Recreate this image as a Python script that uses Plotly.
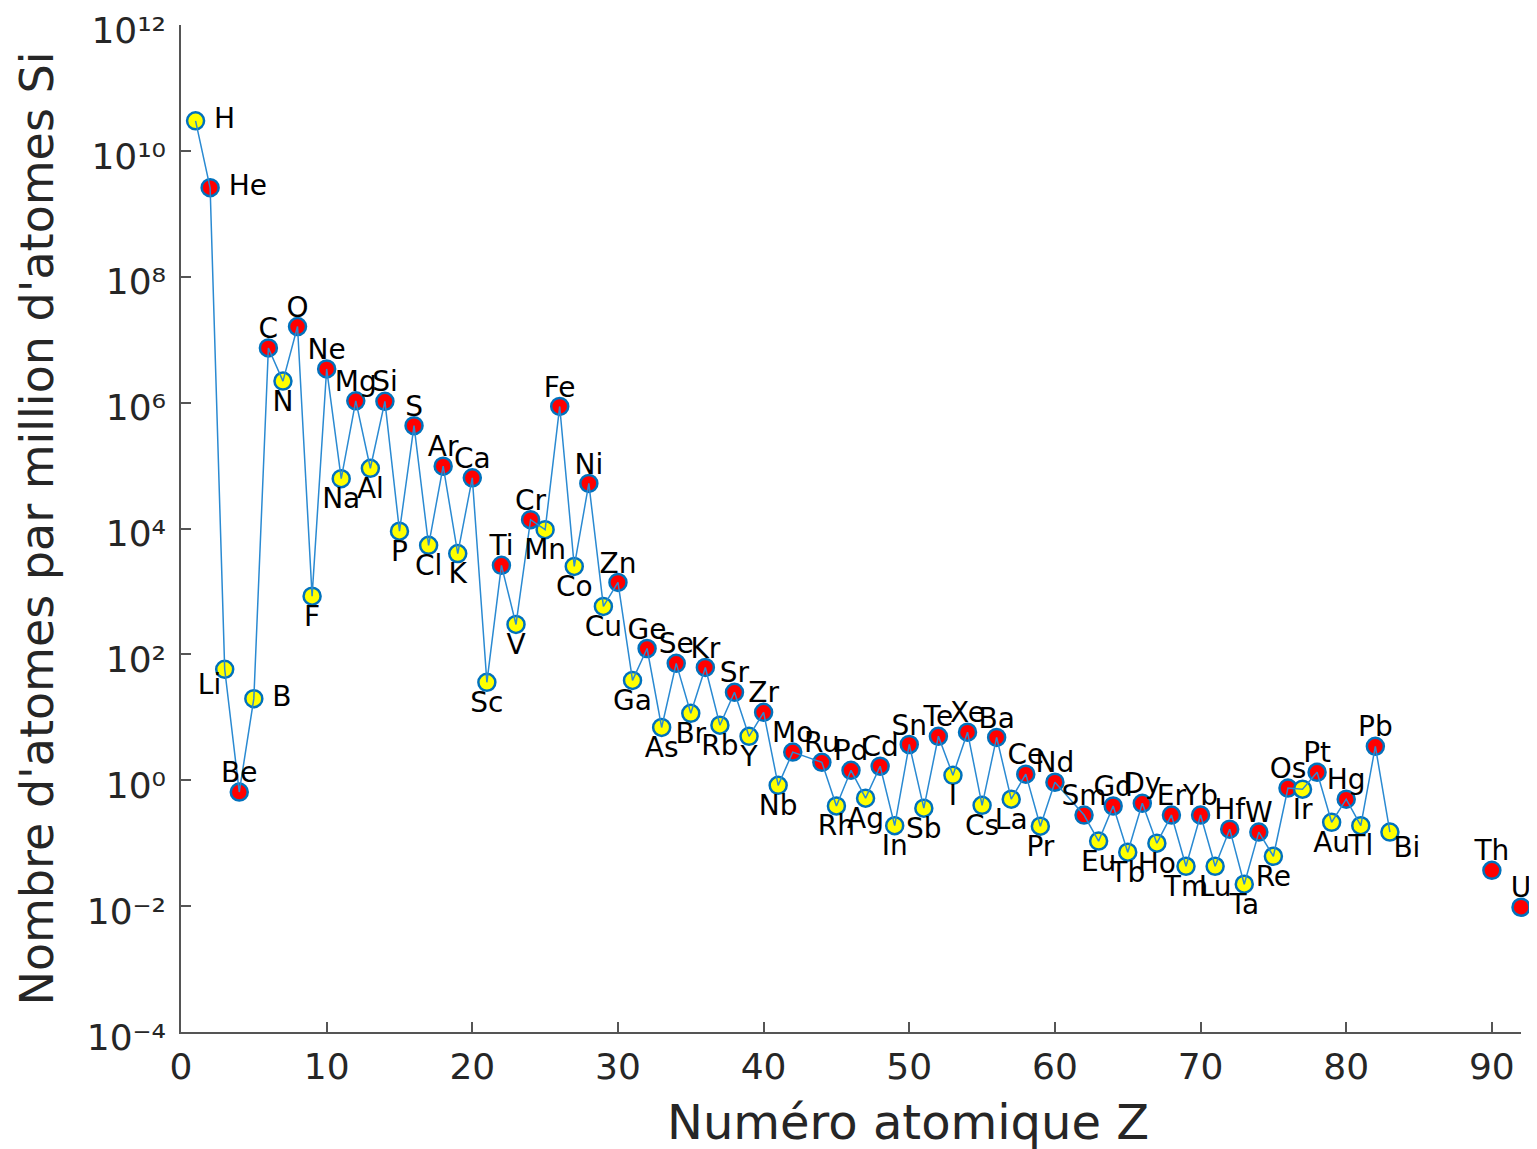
import plotly.graph_objects as go

# ---- data ----
symbols = ["H", "He", "Li", "Be", "B", "C", "N", "O", "F", "Ne",
           "Na", "Mg", "Al", "Si", "P", "S", "Cl", "Ar", "K", "Ca",
           "Sc", "Ti", "V", "Cr", "Mn", "Fe", "Co", "Ni", "Cu", "Zn",
           "Ga", "Ge", "As", "Se", "Br", "Kr", "Rb", "Sr", "Y", "Zr",
           "Nb", "Mo", "Ru", "Rh", "Pd", "Ag", "Cd", "In", "Sn", "Sb",
           "Te", "I", "Xe", "Cs", "Ba", "La", "Ce", "Pr", "Nd", "Sm",
           "Eu", "Gd", "Tb", "Dy", "Ho", "Er", "Tm", "Yb", "Lu", "Hf",
           "Ta", "W", "Re", "Os", "Ir", "Pt", "Au", "Hg", "Tl", "Pb",
           "Bi", "Th", "U"]
Z = [1, 2, 3, 4, 5, 6, 7, 8, 9, 10,
     11, 12, 13, 14, 15, 16, 17, 18, 19, 20,
     21, 22, 23, 24, 25, 26, 27, 28, 29, 30,
     31, 32, 33, 34, 35, 36, 37, 38, 39, 40,
     41, 42, 44, 45, 46, 47, 48, 49, 50, 51,
     52, 53, 54, 55, 56, 57, 58, 59, 60, 62,
     63, 64, 65, 66, 67, 68, 69, 70, 71, 72,
     73, 74, 75, 76, 77, 78, 79, 80, 81, 82,
     83, 90, 92]
abundance = [3.0e10, 2.6e9, 58, 0.65, 19.8, 7.4e6, 2.2e6, 1.62e7, 842, 3.43e6,
             6.2e4, 1.07e6, 9.06e4, 1.05e6, 9.06e3, 4.3e5, 5.4e3, 9.8e4, 4.0e3, 6.4e4,
             36, 2.6e3, 299, 1.38e4, 9.6e3, 8.7e5, 2.5e3, 5.2e4, 578, 1.39e3,
             38.6, 124, 6.9, 72, 11.6, 62, 7.5, 25, 5.0, 12,
             0.83, 2.8, 1.93, 0.39, 1.44, 0.52, 1.67, 0.19, 3.7, 0.36,
             5.0, 1.2, 5.8, 0.40, 4.8, 0.50, 1.25, 0.186, 0.93, 0.28,
             0.108, 0.39, 0.072, 0.43, 0.100, 0.28, 0.043, 0.28, 0.043, 0.167,
             0.0223, 0.15, 0.062, 0.75, 0.72, 1.34, 0.215, 0.50, 0.19, 3.46,
             0.15, 0.037, 0.0096]
x_ticks = [0, 10, 20, 30, 40, 50, 60, 70, 80, 90]
y_exponents = [-4, -2, 0, 2, 4, 6, 8, 10, 12]
x_title = "Numéro atomique Z"
y_title = "Nombre d'atomes par million d'atomes Si"

# ---- styles ----
FONT = "DejaVu Sans"
TXT = "#262626"
SUP = str.maketrans("-0123456789", "⁻⁰¹²³⁴⁵⁶⁷⁸⁹")
marker_fill = ["#FFFF00" if z % 2 else "#FF0000" for z in Z]
special_pos = {"H": "middle right", "He": "middle right", "B": "middle right",
               "Li": "bottom left", "Bi": "bottom right"}
label_pos = [special_pos.get(s, "bottom center" if z % 2 else "top center")
             for s, z in zip(symbols, Z)]
# invisible marker size per text position (controls label distance)
offset_size = {"top center": 3, "bottom center": 12, "middle right": 28,
               "bottom left": 4, "bottom right": 4}

line_x = [z for z in Z if z <= 83]
line_y = [a for z, a in zip(Z, abundance) if z <= 83]

fig = go.Figure()
fig.add_trace(go.Scatter(
    x=Z, y=abundance, mode="markers",
    marker=dict(size=17, color=marker_fill, line=dict(color="#0072BD", width=2.5)),
    cliponaxis=False, showlegend=False, hoverinfo="skip"))
fig.add_trace(go.Scatter(
    x=line_x, y=line_y, mode="lines",
    line=dict(color="#2a8ad2", width=1.5),
    cliponaxis=False, showlegend=False, hoverinfo="skip"))
for pos, msize in offset_size.items():
    idx = [i for i, p in enumerate(label_pos) if p == pos]
    if not idx:
        continue
    fig.add_trace(go.Scatter(
        x=[Z[i] for i in idx], y=[abundance[i] for i in idx],
        text=[symbols[i] for i in idx], mode="markers+text", textposition=pos,
        textfont=dict(family=FONT, size=28, color="#000000"),
        marker=dict(size=msize, color="rgba(0,0,0,0)", line=dict(width=0)),
        cliponaxis=False, showlegend=False))

axis_common = dict(
    showline=True, linecolor="#555555", linewidth=1.5,
    ticks="inside", ticklen=10, tickwidth=1.5, tickcolor="#555555",
    showgrid=False, zeroline=False, mirror=False, automargin=False,
    ticklabeloverflow="allow",
    tickfont=dict(family=FONT, size=36, color=TXT),
)

# the page body adds an 8 px offset, so the figure is 8 px smaller
fig.update_layout(
    width=1529, height=1141,
    margin=dict(l=173, r=16, t=17, b=117),
    paper_bgcolor="white", plot_bgcolor="white",
    font=dict(family=FONT, color=TXT),
    xaxis=dict(range=[0, 92], tickvals=x_ticks, ticklabelstandoff=2, **axis_common),
    yaxis=dict(type="log", range=[-4, 12.0005],
               tickvals=[10.0 ** e for e in y_exponents],
               ticktext=["10" + str(e).translate(SUP) for e in y_exponents],
               ticklabelstandoff=6, ticklabelshift=5,
               **axis_common),
    annotations=[
        dict(text=x_title, xref="paper", yref="paper", x=0.5, y=0,
             xanchor="center", yanchor="middle", xshift=908 - 851, yshift=-(1122 - 1032),
             showarrow=False, font=dict(family=FONT, size=48, color=TXT)),
        dict(text=y_title, xref="paper", yref="paper", x=0, y=0.5, textangle=-90,
             xanchor="center", yanchor="middle", xshift=36 - 181,
             showarrow=False, font=dict(family=FONT, size=46, color=TXT)),
    ],
)

fig.write_html("out.html")
